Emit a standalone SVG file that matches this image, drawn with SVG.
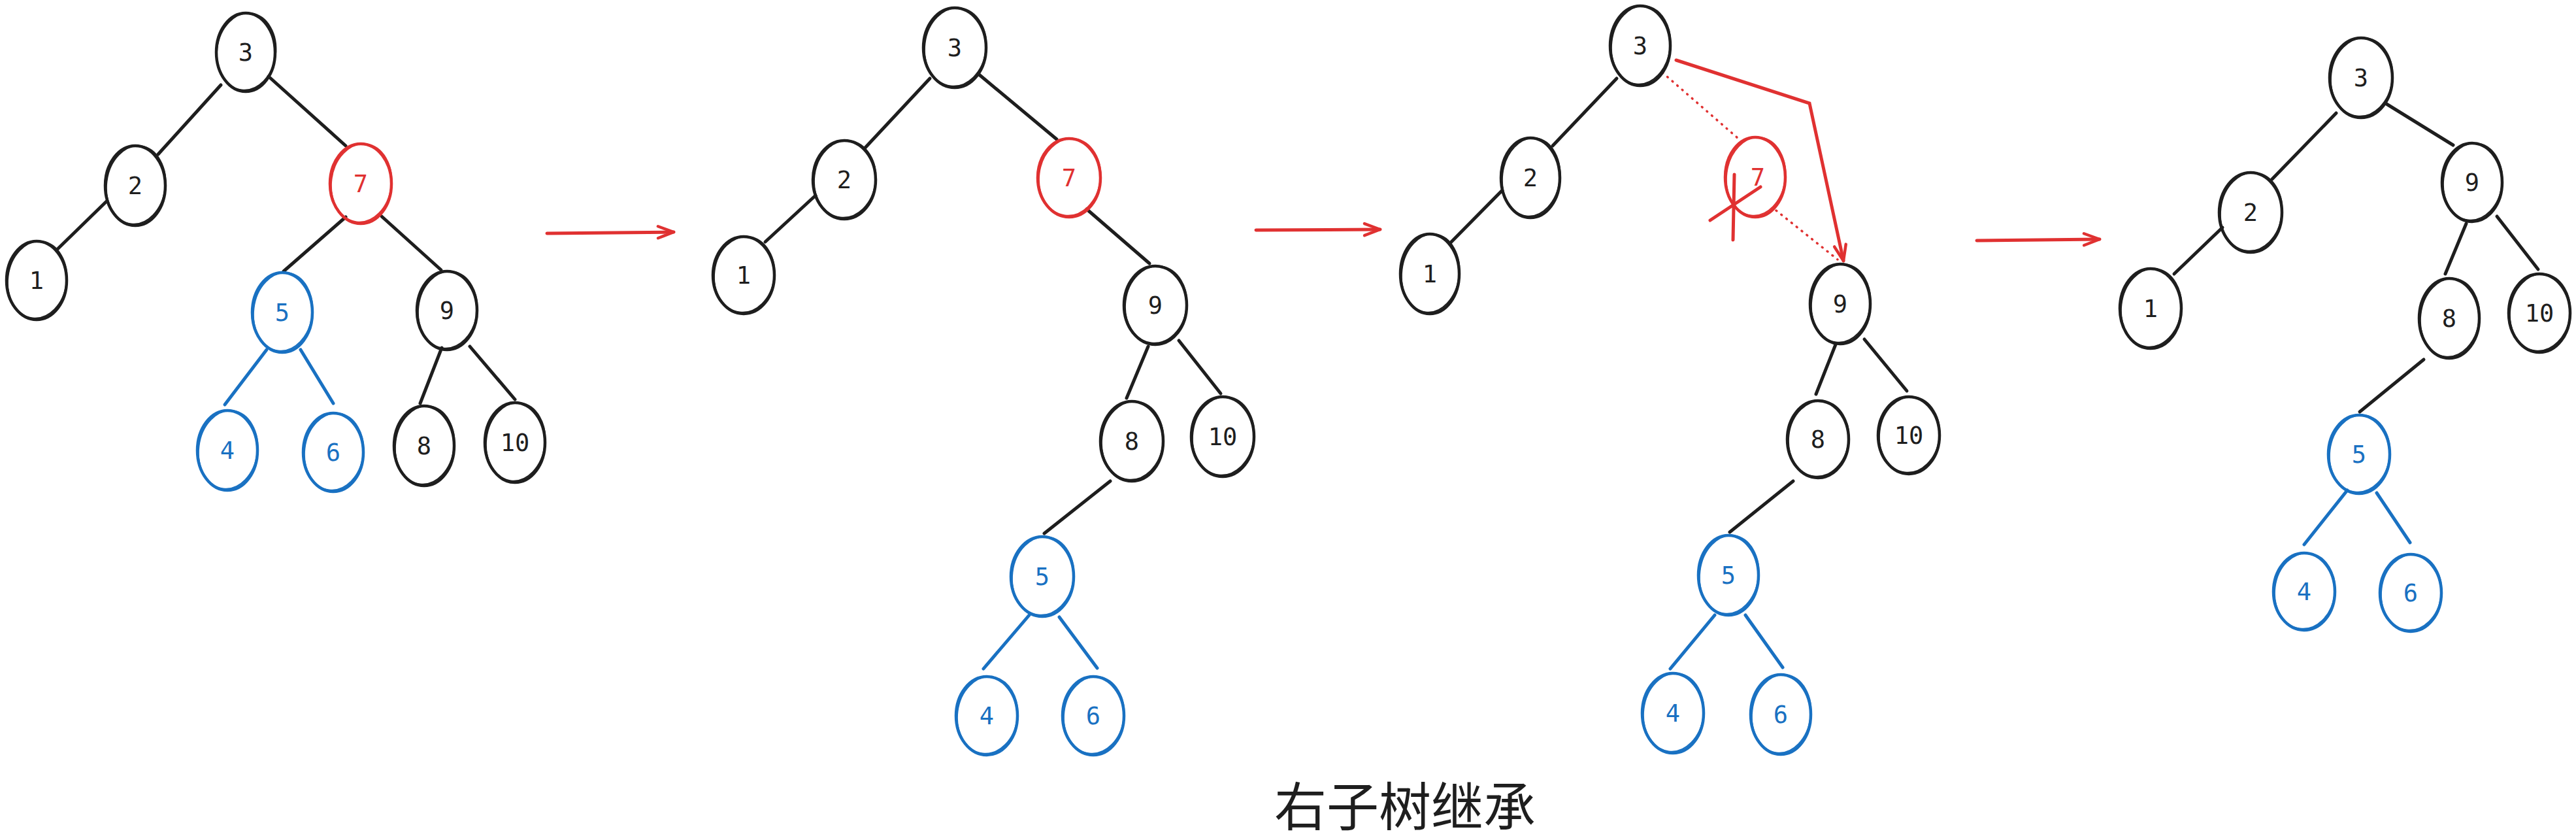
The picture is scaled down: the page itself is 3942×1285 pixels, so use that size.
<svg xmlns="http://www.w3.org/2000/svg" width="3942" height="1285" viewBox="0 0 3942 1285">
<defs>
<style>
.o{fill:none;stroke-width:4.5}
.o2{fill:none;stroke-width:2.2}
.k .o,.k .o2{stroke:#1e1e1e}
.r .o,.r .o2{stroke:#e03131}
.b .o,.b .o2{stroke:#1971c2}
text.l{font-family:"DejaVu Sans Mono","Liberation Mono",monospace;font-size:37px;text-anchor:middle}
.k text{fill:#1e1e1e}
.r text{fill:#e03131}
.b text{fill:#1971c2}
.e{stroke-width:5;stroke-linecap:round;fill:none}
.ek{stroke:#1e1e1e}
.eb{stroke:#1971c2}
.er{stroke:#e03131}
.dot{stroke:#e03131;stroke-width:3.5;stroke-dasharray:1 9;stroke-linecap:round;fill:none}
.cap{font-family:"Noto Sans CJK SC","Noto Sans",sans-serif;font-size:80px;fill:#1e1e1e;text-anchor:middle}
</style>
<marker id="ah" viewBox="-30 -15 36 30" markerUnits="userSpaceOnUse" markerWidth="36" markerHeight="30" refX="0" refY="0" orient="auto">
<path d="M -24 -9 L 0 0 L -24 9" fill="none" stroke="#e03131" stroke-width="4.5" stroke-linecap="round" stroke-linejoin="round"/>
</marker>
</defs>
<rect width="3942" height="1285" fill="#ffffff"/>

<g id="connectors">
<!-- tree 1 -->
<line class="e ek" x1="338" y1="130" x2="242" y2="236"/>
<line class="e ek" x1="411" y1="117" x2="529" y2="223"/>
<line class="e ek" x1="163" y1="308" x2="86" y2="383"/>
<line class="e ek" x1="529" y1="332" x2="434" y2="415"/>
<line class="e ek" x1="584" y1="331" x2="675" y2="413"/>
<line class="e eb" x1="408" y1="535" x2="344" y2="619"/>
<line class="e eb" x1="460" y1="535" x2="510" y2="617"/>
<line class="e ek" x1="676" y1="532" x2="643" y2="617"/>
<line class="e ek" x1="719" y1="530" x2="788" y2="611"/>
<!-- arrow 1 -->
<line class="e er" x1="837" y1="357" x2="1031" y2="355" marker-end="url(#ah)"/>
<!-- tree 2 -->
<line class="e ek" x1="1423" y1="120" x2="1323" y2="227"/>
<line class="e ek" x1="1497" y1="113" x2="1617" y2="213"/>
<line class="e ek" x1="1248" y1="299" x2="1171" y2="370"/>
<line class="e ek" x1="1663" y1="320" x2="1759" y2="403"/>
<line class="e ek" x1="1757" y1="530" x2="1724" y2="609"/>
<line class="e ek" x1="1804" y1="521" x2="1868" y2="602"/>
<line class="e ek" x1="1699" y1="736" x2="1598" y2="816"/>
<line class="e eb" x1="1575" y1="941" x2="1505" y2="1023"/>
<line class="e eb" x1="1621" y1="944" x2="1679" y2="1022"/>
<!-- arrow 2 -->
<line class="e er" x1="1922" y1="352" x2="2112" y2="351" marker-end="url(#ah)"/>
<!-- tree 3 -->
<line class="e ek" x1="2474" y1="120" x2="2376" y2="223"/>
<line class="e ek" x1="2298" y1="292" x2="2219" y2="372"/>
<line class="dot" x1="2544" y1="111" x2="2659" y2="211"/>
<line class="dot" x1="2718" y1="322" x2="2812" y2="397"/>
<polyline class="e er" points="2565,92 2769,158 2821,399" marker-end="url(#ah)"/>
<line class="e ek" x1="2809" y1="527" x2="2779" y2="603"/>
<line class="e ek" x1="2853" y1="519" x2="2918" y2="598"/>
<line class="e ek" x1="2744" y1="736" x2="2647" y2="814"/>
<line class="e eb" x1="2624" y1="941" x2="2556" y2="1023"/>
<line class="e eb" x1="2671" y1="941" x2="2728" y2="1021"/>
<!-- arrow 3 -->
<line class="e er" x1="3025" y1="368" x2="3213" y2="366" marker-end="url(#ah)"/>
<!-- tree 4 -->
<line class="e ek" x1="3575" y1="173" x2="3477" y2="274"/>
<line class="e ek" x1="3652" y1="159" x2="3754" y2="222"/>
<line class="e ek" x1="3401" y1="348" x2="3327" y2="419"/>
<line class="e ek" x1="3774" y1="342" x2="3742" y2="419"/>
<line class="e ek" x1="3821" y1="331" x2="3884" y2="412"/>
<line class="e ek" x1="3709" y1="550" x2="3611" y2="630"/>
<line class="e eb" x1="3592" y1="750" x2="3526" y2="833"/>
<line class="e eb" x1="3637" y1="754" x2="3688" y2="830"/>
</g>

<!-- tree 1 nodes -->
<g id="t1-3" class="k"><ellipse class="o" cx="376" cy="80" rx="45" ry="60"/><ellipse class="o2" cx="377" cy="79" rx="45" ry="59" transform="rotate(7 377 79)"/><text class="l" x="376" y="93">3</text></g>
<g id="t1-2" class="k"><ellipse class="o" cx="207" cy="284" rx="46" ry="61"/><ellipse class="o2" cx="208" cy="283" rx="45" ry="60" transform="rotate(7 208 283)"/><text class="l" x="207" y="297">2</text></g>
<g id="t1-7" class="r"><ellipse class="o" cx="552" cy="281" rx="47" ry="61"/><ellipse class="o2" cx="553" cy="280" rx="46" ry="60" transform="rotate(7 553 280)"/><text class="l" x="552" y="294">7</text></g>
<g id="t1-1" class="k"><ellipse class="o" cx="56" cy="429" rx="46" ry="60"/><ellipse class="o2" cx="57" cy="428" rx="45" ry="59" transform="rotate(7 57 428)"/><text class="l" x="56" y="442">1</text></g>
<g id="t1-5" class="b"><ellipse class="o" cx="432" cy="478" rx="46" ry="61"/><ellipse class="o2" cx="433" cy="477" rx="45" ry="60" transform="rotate(7 433 477)"/><text class="l" x="432" y="491">5</text></g>
<g id="t1-9" class="k"><ellipse class="o" cx="684" cy="475" rx="46" ry="60"/><ellipse class="o2" cx="685" cy="474" rx="45" ry="59" transform="rotate(7 685 474)"/><text class="l" x="684" y="488">9</text></g>
<g id="t1-4" class="b"><ellipse class="o" cx="348" cy="689" rx="46" ry="61"/><ellipse class="o2" cx="349" cy="688" rx="45" ry="60" transform="rotate(7 349 688)"/><text class="l" x="348" y="702">4</text></g>
<g id="t1-6" class="b"><ellipse class="o" cx="510" cy="692" rx="46" ry="60"/><ellipse class="o2" cx="511" cy="691" rx="45" ry="59" transform="rotate(7 511 691)"/><text class="l" x="510" y="705">6</text></g>
<g id="t1-8" class="k"><ellipse class="o" cx="649" cy="682" rx="46" ry="61"/><ellipse class="o2" cx="650" cy="681" rx="45" ry="60" transform="rotate(7 650 681)"/><text class="l" x="649" y="695">8</text></g>
<g id="t1-10" class="k"><ellipse class="o" cx="788" cy="677" rx="46" ry="61"/><ellipse class="o2" cx="789" cy="676" rx="45" ry="60" transform="rotate(7 789 676)"/><text class="l" x="788" y="690">10</text></g>

<!-- tree 2 nodes -->
<g id="t2-3" class="k"><ellipse class="o" cx="1461" cy="73" rx="48" ry="61"/><ellipse class="o2" cx="1462" cy="72" rx="47" ry="60" transform="rotate(7 1462 72)"/><text class="l" x="1461" y="86">3</text></g>
<g id="t2-2" class="k"><ellipse class="o" cx="1292" cy="275" rx="48" ry="60"/><ellipse class="o2" cx="1293" cy="274" rx="47" ry="59" transform="rotate(7 1293 274)"/><text class="l" x="1292" y="288">2</text></g>
<g id="t2-7" class="r"><ellipse class="o" cx="1636" cy="272" rx="48" ry="60"/><ellipse class="o2" cx="1637" cy="271" rx="47" ry="59" transform="rotate(7 1637 271)"/><text class="l" x="1636" y="285">7</text></g>
<g id="t2-1" class="k"><ellipse class="o" cx="1138" cy="421" rx="47" ry="59"/><ellipse class="o2" cx="1139" cy="420" rx="46" ry="58" transform="rotate(7 1139 420)"/><text class="l" x="1138" y="434">1</text></g>
<g id="t2-9" class="k"><ellipse class="o" cx="1768" cy="467" rx="48" ry="60"/><ellipse class="o2" cx="1769" cy="466" rx="47" ry="59" transform="rotate(7 1769 466)"/><text class="l" x="1768" y="480">9</text></g>
<g id="t2-8" class="k"><ellipse class="o" cx="1732" cy="675" rx="48" ry="61"/><ellipse class="o2" cx="1733" cy="674" rx="47" ry="60" transform="rotate(7 1733 674)"/><text class="l" x="1732" y="688">8</text></g>
<g id="t2-10" class="k"><ellipse class="o" cx="1871" cy="668" rx="48" ry="61"/><ellipse class="o2" cx="1872" cy="667" rx="47" ry="60" transform="rotate(7 1872 667)"/><text class="l" x="1871" y="681">10</text></g>
<g id="t2-5" class="b"><ellipse class="o" cx="1595" cy="882" rx="48" ry="61"/><ellipse class="o2" cx="1596" cy="881" rx="47" ry="60" transform="rotate(7 1596 881)"/><text class="l" x="1595" y="895">5</text></g>
<g id="t2-4" class="b"><ellipse class="o" cx="1510" cy="1095" rx="47" ry="60"/><ellipse class="o2" cx="1511" cy="1094" rx="46" ry="59" transform="rotate(7 1511 1094)"/><text class="l" x="1510" y="1108">4</text></g>
<g id="t2-6" class="b"><ellipse class="o" cx="1673" cy="1095" rx="47" ry="60"/><ellipse class="o2" cx="1674" cy="1094" rx="46" ry="59" transform="rotate(7 1674 1094)"/><text class="l" x="1673" y="1108">6</text></g>

<!-- tree 3 nodes -->
<g id="t3-3" class="k"><ellipse class="o" cx="2510" cy="70" rx="46" ry="61"/><ellipse class="o2" cx="2511" cy="69" rx="45" ry="60" transform="rotate(7 2511 69)"/><text class="l" x="2510" y="83">3</text></g>
<g id="t3-2" class="k"><ellipse class="o" cx="2342" cy="272" rx="45" ry="61"/><ellipse class="o2" cx="2343" cy="271" rx="44" ry="60" transform="rotate(7 2343 271)"/><text class="l" x="2342" y="285">2</text></g>
<g id="t3-7" class="r"><ellipse class="o" cx="2686" cy="271" rx="46" ry="61"/><ellipse class="o2" cx="2687" cy="270" rx="45" ry="60" transform="rotate(7 2687 270)"/><text class="l" x="2690" y="284">7</text><path class="e er" d="M2654 267 L2652 367 M2694 286 L2617 337"/></g>
<g id="t3-1" class="k"><ellipse class="o" cx="2188" cy="419" rx="45" ry="61"/><ellipse class="o2" cx="2189" cy="418" rx="44" ry="60" transform="rotate(7 2189 418)"/><text class="l" x="2188" y="432">1</text></g>
<g id="t3-9" class="k"><ellipse class="o" cx="2816" cy="465" rx="46" ry="61"/><ellipse class="o2" cx="2817" cy="464" rx="45" ry="60" transform="rotate(7 2817 464)"/><text class="l" x="2816" y="478">9</text></g>
<g id="t3-8" class="k"><ellipse class="o" cx="2782" cy="672" rx="47" ry="59"/><ellipse class="o2" cx="2783" cy="671" rx="46" ry="58" transform="rotate(7 2783 671)"/><text class="l" x="2782" y="685">8</text></g>
<g id="t3-10" class="k"><ellipse class="o" cx="2921" cy="666" rx="47" ry="59"/><ellipse class="o2" cx="2922" cy="665" rx="46" ry="58" transform="rotate(7 2922 665)"/><text class="l" x="2921" y="679">10</text></g>
<g id="t3-5" class="b"><ellipse class="o" cx="2645" cy="880" rx="46" ry="61"/><ellipse class="o2" cx="2646" cy="879" rx="45" ry="60" transform="rotate(7 2646 879)"/><text class="l" x="2645" y="893">5</text></g>
<g id="t3-4" class="b"><ellipse class="o" cx="2560" cy="1091" rx="47" ry="61"/><ellipse class="o2" cx="2561" cy="1090" rx="46" ry="60" transform="rotate(7 2561 1090)"/><text class="l" x="2560" y="1104">4</text></g>
<g id="t3-6" class="b"><ellipse class="o" cx="2725" cy="1093" rx="46" ry="61"/><ellipse class="o2" cx="2726" cy="1092" rx="45" ry="60" transform="rotate(7 2726 1092)"/><text class="l" x="2725" y="1106">6</text></g>

<!-- tree 4 nodes -->
<g id="t4-3" class="k"><ellipse class="o" cx="3613" cy="119" rx="48" ry="61"/><ellipse class="o2" cx="3614" cy="118" rx="47" ry="60" transform="rotate(7 3614 118)"/><text class="l" x="3613" y="132">3</text></g>
<g id="t4-2" class="k"><ellipse class="o" cx="3444" cy="325" rx="48" ry="61"/><ellipse class="o2" cx="3445" cy="324" rx="47" ry="60" transform="rotate(7 3445 324)"/><text class="l" x="3444" y="338">2</text></g>
<g id="t4-9" class="k"><ellipse class="o" cx="3783" cy="279" rx="46" ry="60"/><ellipse class="o2" cx="3784" cy="278" rx="45" ry="59" transform="rotate(7 3784 278)"/><text class="l" x="3783" y="292">9</text></g>
<g id="t4-1" class="k"><ellipse class="o" cx="3291" cy="472" rx="47" ry="61"/><ellipse class="o2" cx="3292" cy="471" rx="46" ry="60" transform="rotate(7 3292 471)"/><text class="l" x="3291" y="485">1</text></g>
<g id="t4-8" class="k"><ellipse class="o" cx="3748" cy="487" rx="46" ry="61"/><ellipse class="o2" cx="3749" cy="486" rx="45" ry="60" transform="rotate(7 3749 486)"/><text class="l" x="3748" y="500">8</text></g>
<g id="t4-10" class="k"><ellipse class="o" cx="3886" cy="479" rx="47" ry="60"/><ellipse class="o2" cx="3887" cy="478" rx="46" ry="59" transform="rotate(7 3887 478)"/><text class="l" x="3886" y="492">10</text></g>
<g id="t4-5" class="b"><ellipse class="o" cx="3610" cy="695" rx="47" ry="60"/><ellipse class="o2" cx="3611" cy="694" rx="46" ry="59" transform="rotate(7 3611 694)"/><text class="l" x="3610" y="708">5</text></g>
<g id="t4-4" class="b"><ellipse class="o" cx="3526" cy="905" rx="47" ry="59"/><ellipse class="o2" cx="3527" cy="904" rx="46" ry="58" transform="rotate(7 3527 904)"/><text class="l" x="3526" y="918">4</text></g>
<g id="t4-6" class="b"><ellipse class="o" cx="3689" cy="907" rx="47" ry="59"/><ellipse class="o2" cx="3690" cy="906" rx="46" ry="58" transform="rotate(7 3690 906)"/><text class="l" x="3689" y="920">6</text></g>

<text class="cap" x="2150" y="1263">右子树继承</text>
</svg>
